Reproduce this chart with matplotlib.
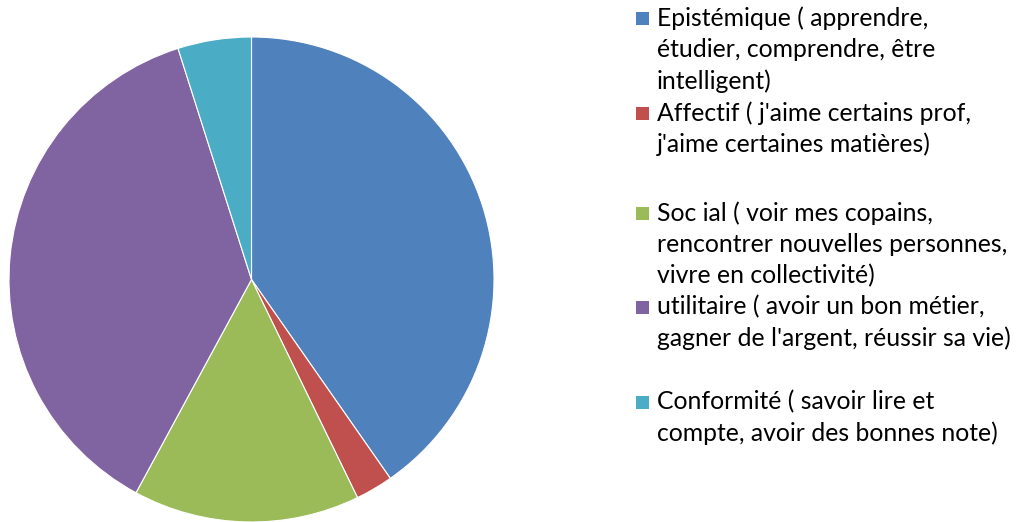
import matplotlib.pyplot as plt
from matplotlib.patches import Rectangle

# Data (share of answers, %)
categories = [
    "Epistémique ( apprendre,\nétudier, comprendre, être\nintelligent)",
    "Affectif ( j'aime certains prof,\nj'aime certaines matières)",
    "Soc ial ( voir mes copains,\nrencontrer nouvelles personnes,\nvivre en collectivité)",
    "utilitaire ( avoir un bon métier,\ngagner de l'argent, réussir sa vie)",
    "Conformité ( savoir lire et\ncompte, avoir des bonnes note)",
]
values = [40.3, 2.5, 15.1, 37.2, 4.9]
colors = ['#4F81BD', '#C0504D', '#9BBB59', '#8064A2', '#4BACC6']

W, H = 1019, 522
fig = plt.figure(figsize=(W / 100, H / 100), dpi=100)

# Pie axes: centre ~(252, 280) px, radius ~243 px
cx, cy, r = 251.5, 279.5, 242.5
ax = fig.add_axes([(cx - r) / W, (H - cy - r) / H, 2 * r / W, 2 * r / H])
ax.pie(values, colors=colors, startangle=90, counterclock=False,
       radius=1, wedgeprops=dict(edgecolor='white', linewidth=0.8))
ax.set_xlim(-1, 1)
ax.set_ylim(-1, 1)
ax.set_aspect('equal')
ax.axis('off')

# Legend drawn by hand to keep Excel-like line spacing
line_h = 31.5
entry_tops = [18, 113, 213, 307, 402]   # centre of first line of each entry (px)
for label, col, y0 in zip(categories, colors, entry_tops):
    fig.patches.append(Rectangle((636 / W, (H - y0 - 7) / H), 13 / W, 13 / H,
                                 transform=fig.transFigure, facecolor=col,
                                 edgecolor='none'))
    for i, line in enumerate(label.split('\n')):
        fig.text(657 / W, (H - y0 - i * line_h) / H, line, fontsize=17.8,
                 family='Lato', va='center', ha='left', color='black')

fig.savefig('out.png', dpi=100)
